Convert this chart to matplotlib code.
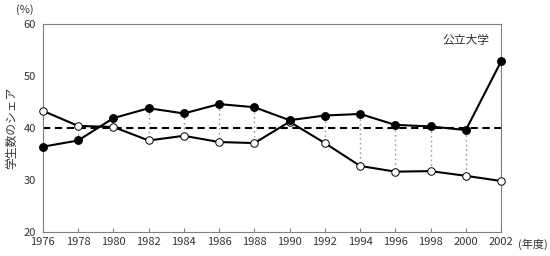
import matplotlib.pyplot as plt
import matplotlib.transforms as mtransforms

plt.rcParams['font.family'] = ['Noto Sans CJK JP', 'DejaVu Sans']

years = [1976, 1978, 1980, 1982, 1984, 1986, 1988, 1990, 1992, 1994, 1996, 1998, 2000, 2002]
share_filled = [36.4, 37.6, 41.9, 43.8, 42.8, 44.6, 44.0, 41.5, 42.4, 42.7, 40.6, 40.3, 39.6, 52.8]
share_open = [43.3, 40.4, 40.2, 37.6, 38.5, 37.3, 37.1, 41.2, 37.1, 32.7, 31.6, 31.7, 30.8, 29.8]
baseline = 40
xtick_labels = [str(y) for y in years]
yticks = [20, 30, 40, 50, 60]

fig = plt.figure(figsize=(5.5, 2.56), dpi=100)
ax = fig.add_axes([0.078, 0.094, 0.833, 0.812])

gray = '#808080'
# vertical dotted connectors between the two series
for x, a, b in zip(years, share_filled, share_open):
    ax.plot([x, x], [a, b], color='#999999', linestyle=(0, (1.2, 2.2)), linewidth=1.0, zorder=1)

ax.axhline(baseline, color='black', linestyle=(0, (3.5, 2.2)), linewidth=1.5, zorder=2)

ax.plot(years, share_open, color='black', linewidth=1.5, marker='o', markersize=5.4,
        markerfacecolor='white', markeredgecolor='black', markeredgewidth=0.7, zorder=3, clip_on=False)
ax.plot(years, share_filled, color='black', linewidth=1.5, marker='o', markersize=5.4,
        markerfacecolor='black', markeredgecolor='black', zorder=4, clip_on=False)

ax.set_xlim(1976, 2002)
ax.set_ylim(20, 60)
ax.set_xticks(years)
ax.set_xticklabels(xtick_labels)
ax.set_yticks(yticks)
# y labels sit a little above their gridline in the original
shift = mtransforms.ScaledTranslation(0, 4 / 100, fig.dpi_scale_trans)
for lbl in ax.get_yticklabels():
    lbl.set_transform(lbl.get_transform() + shift)

for s in ax.spines.values():
    s.set_color(gray)
    s.set_linewidth(0.8)

ax.tick_params(axis='x', direction='in', length=3, width=0.8, color=gray, labelsize=8, pad=4,
               labelcolor='#333333')
ax.tick_params(axis='y', length=0, labelsize=8, pad=5, labelcolor='#333333')

ax.set_ylabel('学生数のシェア', fontsize=8.5, color='#333333', labelpad=4)
fig.text(0.046, 0.962, '(%)', fontsize=8, color='#333333', ha='center', va='center')
ax.text(0.975, 0.92, '公立大学', transform=ax.transAxes, fontsize=8.5, color='#333333',
        ha='right', va='center')
fig.text(0.968, 0.047, '(年度)', fontsize=8, color='#333333', ha='center', va='center')

fig.savefig('out.png', dpi=100)
